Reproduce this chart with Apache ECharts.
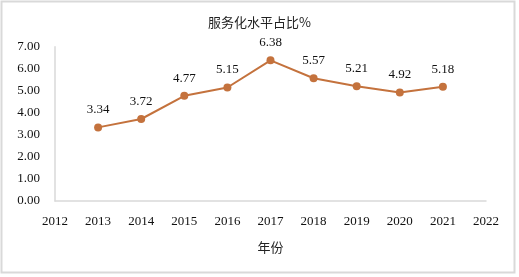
<!DOCTYPE html>
<html><head><meta charset="utf-8">
<script src="https://cdn.jsdelivr.net/npm/echarts@6/dist/echarts.min.js"></script>
<style>html,body{margin:0;padding:0;background:#fff}#c{width:519px;height:277px}</style>
</head><body><div id="c"></div>
<script>
const categories = ['2012','2013','2014','2015','2016','2017','2018','2019','2020','2021','2022'];
const values = [null, 3.34, 3.72, 4.77, 5.15, 6.38, 5.57, 5.21, 4.92, 5.18, null];
const titleText = '服务化水平占比%';
const xName = '年份';
const serif = '"Liberation Serif","DejaVu Serif",serif';
const cjk = '"Noto Sans CJK SC","Liberation Serif",serif';
const chart = echarts.init(document.getElementById('c'));
chart.setOption({
  animation: false,
  graphic: [{type:'rect', shape:{x:1.5,y:1.5,width:513,height:271}, style:{fill:'none', stroke:'#d9d9d9', lineWidth:2}}],
  title: {text: titleText, left: 'center', top: 11, textStyle:{fontFamily: cjk, fontSize: 13, fontWeight:'normal', color:'#222'}},
  grid: {left: 55, right: 33, top: 46.7, bottom: 76},
  xAxis: {type:'category', data: categories, boundaryGap:false,
    name: xName, nameLocation:'middle', nameGap: 40,
    nameTextStyle:{fontFamily: cjk, fontSize: 13, color:'#222'},
    axisLine:{lineStyle:{color:'#d9d9d9', width:1.5}}, axisTick:{show:false},
    axisLabel:{fontFamily: serif, fontSize: 13, color:'#111', margin: 14}},
  yAxis: {type:'value', min:0, max:7, interval:1,
    axisLine:{show:true, lineStyle:{color:'#d9d9d9', width:1.5}}, axisTick:{show:false},
    splitLine:{show:false},
    axisLabel:{fontFamily: serif, fontSize: 13, color:'#111', margin: 15, formatter: v => v.toFixed(2)}},
  series: [{type:'line', data: values, connectNulls:false,
    symbol:'circle', symbolSize: 8,
    lineStyle:{color:'#C4723D', width:2}, itemStyle:{color:'#C4723D'},
    label:{show:true, position:'top', distance: 7, fontFamily: serif, fontSize: 13, color:'#111', formatter: p => p.value.toFixed(2)}}]
});
</script></body></html>
